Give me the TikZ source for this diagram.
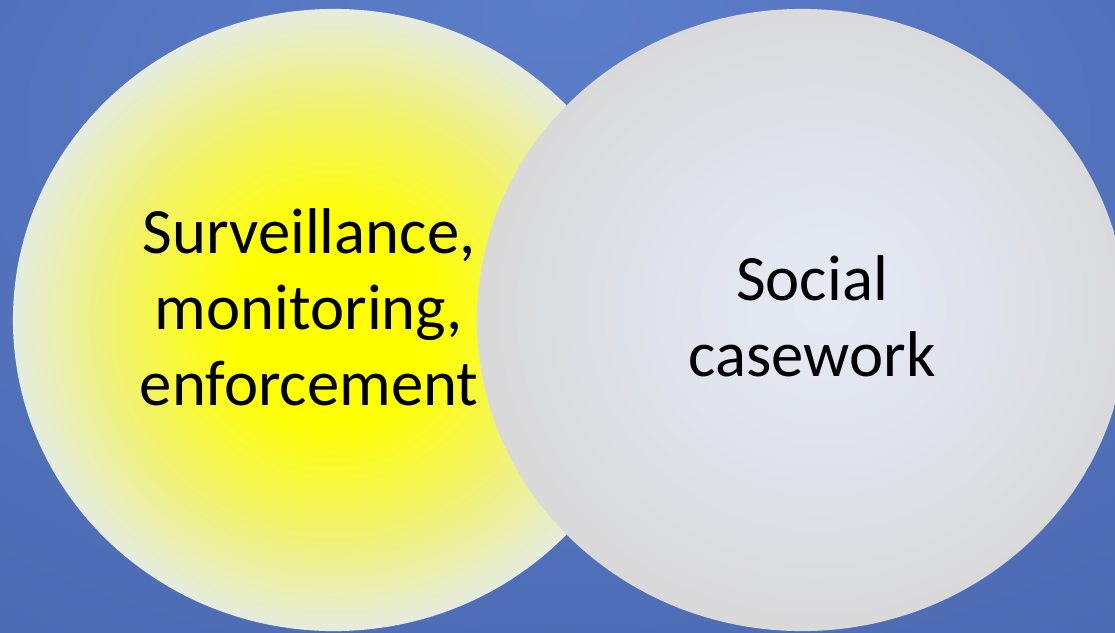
\documentclass[tikz,border=0pt]{standalone}
\usepackage{fontspec}
\setmainfont{Carlito}
\usepackage{tikz}
\usetikzlibrary{shapes.geometric,positioning}
\definecolor{bglight}{HTML}{5C7DC8}
\definecolor{bgmid}{HTML}{5272BC}
\definecolor{bgdark}{HTML}{3F5A9E}
\definecolor{yelcore}{HTML}{FFFF00}
\definecolor{yelmid}{HTML}{F1F36E}
\definecolor{yeledge}{HTML}{E5ECDF}
\definecolor{greycore}{HTML}{E5EAF5}
\definecolor{greymid}{HTML}{E0E3EC}
\definecolor{greyedge}{HTML}{D9D9DA}
\pgfdeclareradialshading{bgglow}{\pgfpoint{0bp}{25bp}}{color(0bp)=(bglight); color(25bp)=(bgmid); color(50bp)=(bgmid!55!bgdark); color(62bp)=(bgdark)}
\pgfdeclareradialshading{yelglow}{\pgfpoint{0bp}{0bp}}{color(0bp)=(yelcore); color(8bp)=(yelcore); color(17bp)=(yelmid); color(25bp)=(yeledge); color(50bp)=(yeledge)}
\pgfdeclareradialshading{greyglow}{\pgfpoint{2bp}{1.5bp}}{color(0bp)=(greycore); color(12bp)=(greymid); color(25bp)=(greyedge); color(50bp)=(greyedge)}

\begin{document}
\begin{tikzpicture}[
        x=0.025cm, y=-0.025cm,
        oval/.style={ellipse, draw=none, inner sep=0pt, outer sep=0pt},
        lbl/.style={align=center, text=black, font=\fontsize{46}{54}\selectfont}
    ]
        \useasboundingbox (0,0) rectangle (1115,632);
        \shade[shading=bgglow] (0,0) rectangle (1115,632);

        \node[oval, shading=yelglow, minimum width=16.05cm, minimum height=15.55cm] (watch) at (334,320) {};
        \node[oval, shading=greyglow, minimum width=16.25cm, minimum height=15.55cm] (care) at (802,320) {};

        \node[lbl] (watchtxt) at (309,307) {Surveillance,\\monitoring,\\enforcement};
        \node[lbl] (caretxt) at (812,316) {Social\\casework};
    \end{tikzpicture}
\end{document}
